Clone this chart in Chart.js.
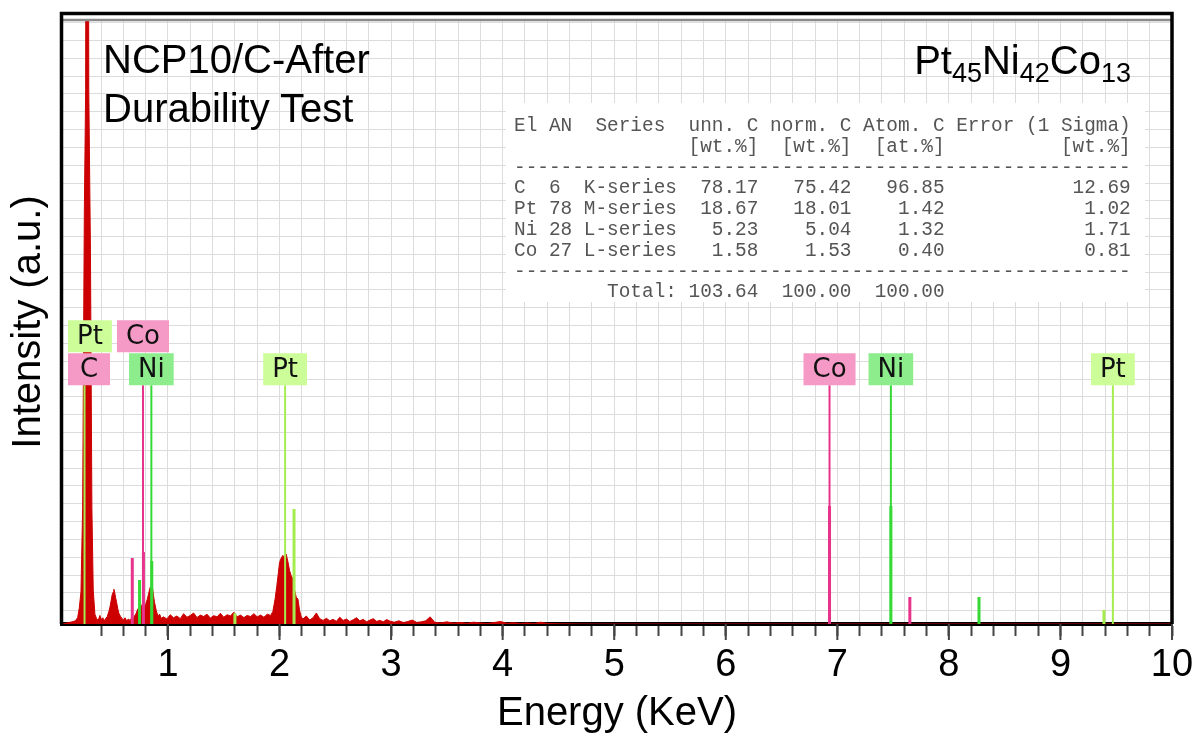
<!DOCTYPE html>
<html>
<head>
<meta charset="utf-8">
<script src="https://cdn.jsdelivr.net/npm/chart.js@4/dist/chart.umd.min.js"></script>
<style>
  body { margin: 0; background: #fff; }
  #wrap { position: relative; width: 1193px; height: 742px; font-family: "Liberation Sans", Arial, sans-serif; }
  #wrap canvas { position: absolute; left: 0; top: 0; }
  .note { position: absolute; font-size: 40px; line-height: 49px; color: #000; white-space: nowrap; }
  .note sub { font-size: 27px; vertical-align: -8px; line-height: 0; }
  #tbl { position: absolute; left: 506px; top: 103px; width: 631px; height: 186px; padding: 13px 0 0 8px; background: #fff; }
  #tbl pre { margin: 0; font-family: "Liberation Mono", "DejaVu Sans Mono", monospace; font-size: 19.4px; line-height: 20.8px; color: #555; }
</style>
</head>
<body>
<div id="wrap">
  <canvas id="myChart" width="1193" height="742"></canvas>
  <div class="note" style="left:103px; top:35px;">NCP10/C-After<br>Durability Test</div>
  <div class="note" style="right:62px; top:36px;">Pt<sub>45</sub>Ni<sub>42</sub>Co<sub>13</sub></div>
  <div id="tbl"><pre id="tblText"></pre></div>
</div>
<script>
// EDS spectrum (energy in keV, intensity in counts)
const energy = [
  0.05, 0.08, 0.11, 0.14, 0.17, 0.19,
  0.205, 0.22, 0.235, 0.25, 0.262, 0.27, 0.28, 0.29, 0.305, 0.318, 0.33, 0.345,
  0.36, 0.375, 0.39, 0.40, 0.415, 0.43, 0.44,
  0.455, 0.47, 0.48, 0.49, 0.50, 0.51, 0.515, 0.52, 0.53, 0.54, 0.55, 0.56, 0.575, 0.59,
  0.60, 0.615, 0.63, 0.645, 0.66, 0.675, 0.69, 0.70, 0.715, 0.73, 0.745, 0.76, 0.775, 0.79,
  0.80, 0.815, 0.83, 0.84, 0.85, 0.86, 0.87, 0.88, 0.895, 0.91, 0.925, 0.94,
  0.96, 0.99, 1.02, 1.05, 1.08, 1.11, 1.14, 1.17, 1.20, 1.23, 1.26, 1.29, 1.32, 1.35, 1.38,
  1.41, 1.44, 1.47, 1.50, 1.53, 1.56, 1.59, 1.62, 1.65, 1.68, 1.71, 1.74, 1.77, 1.80, 1.83,
  1.86, 1.89, 1.92,
  1.94, 1.96, 1.975, 1.99, 2.00, 2.015, 2.03, 2.045, 2.06, 2.075, 2.09, 2.105, 2.12, 2.135,
  2.15, 2.165, 2.18, 2.195,
  2.21, 2.24, 2.27, 2.30, 2.33, 2.36, 2.39, 2.42, 2.45, 2.48, 2.51, 2.54, 2.57, 2.60, 2.63,
  2.66, 2.69, 2.72, 2.75, 2.78, 2.81, 2.84, 2.87, 2.90, 2.93, 2.96, 2.99, 3.03, 3.07, 3.11,
  3.15, 3.19, 3.23, 3.27, 3.31, 3.35, 3.39, 3.44, 3.50, 3.56, 3.62, 3.68, 3.74, 3.80, 3.86,
  3.92, 3.98, 4.04, 4.10, 4.16, 4.22, 4.28, 4.34, 4.40, 4.50, 4.70, 5.50, 10.0
];
const counts = [
  0, 4, 8, 12, 18, 35,
  90, 180, 650, 2300, 3000, 7000, 7000, 3000, 2100, 650, 190, 55,
  30, 22, 48, 25, 35, 18, 30,
  40, 70, 95, 130, 165, 180, 195, 185, 150, 120, 85, 60, 42, 30,
  22, 35, 18, 28, 20, 34, 26, 45, 60, 85, 62, 95, 120, 90,
  110, 140, 180, 205, 190, 210, 160, 120, 75, 45, 55, 32,
  40, 28, 52, 35, 45, 30, 58, 38, 48, 62, 36, 50, 42, 55, 33,
  47, 40, 60, 38, 52, 45, 66, 40, 50, 36, 48, 42, 58, 40, 50,
  38, 55, 48,
  70, 140, 210, 290, 345, 370, 385, 372, 392, 350, 300, 270, 255, 190,
  150, 140, 75, 40,
  28, 45, 22, 35, 62, 30, 20, 32, 18, 26, 15, 38, 20, 28, 14,
  24, 35, 18, 26, 12, 22, 30, 15, 20, 12, 25, 16, 10, 18, 8,
  14, 22, 9, 12, 18, 40, 10, 6, 12, 5, 9, 4, 10, 6, 3,
  8, 14, 4, 7, 3, 6, 2, 10, 3, 1, 0, 0, 0
];

// characteristic line markers (element, energy keV, marker height)
const lineEl = ['Co', 'Ni', 'Co', 'Ni', 'Pt', 'Pt', 'Co', 'Ni', 'Co', 'Ni', 'Pt'];
const lineE  = [0.68, 0.745, 0.78, 0.855, 1.60, 2.13, 6.93, 7.48, 7.65, 8.27, 9.39];
const lineH  = [370, 247, 404, 353, 60, 645, 662, 662, 151, 151, 78];

// labelled lines
const labelEl = ['Pt', 'C', 'Co', 'Ni', 'Pt', 'Co', 'Ni', 'Pt'];
const labelE  = [0.252, 0.277, 0.776, 0.851, 2.05, 6.93, 7.48, 9.47];

// quantification table
const tableHead = ['El', 'AN', 'Series', 'unn. C', 'norm. C', 'Atom. C', 'Error (1 Sigma)'];
const tableUnits = ['[wt.%]', '[wt.%]', '[at.%]', '[wt.%]'];
const tableRows = [
  ['C',  '6',  'K-series', '78.17', '75.42', '96.85', '12.69'],
  ['Pt', '78', 'M-series', '18.67', '18.01', '1.42',  '1.02'],
  ['Ni', '28', 'L-series', '5.23',  '5.04',  '1.32',  '1.71'],
  ['Co', '27', 'L-series', '1.58',  '1.53',  '0.40',  '0.81']
];
const tableTotal = ['103.64', '100.00', '100.00'];

const colors = {
  C:  { line: '#e8338c', box: '#f59ac6' },
  Co: { line: '#e8338c', box: '#f59ac6' },
  Ni: { line: '#35d835', box: '#8ded8d' },
  Pt: { line: '#a5ec4f', box: '#cdfd98' }
};
const upperTier = [true, false, true, false, false, false, false, false];
const LABEL_LEVEL = 1340;

// build table text
let tt = tableHead[0] + ' ' + tableHead[1] + '  ' + tableHead[2] + '  ' + tableHead[3] + ' ' +
  tableHead[4] + ' ' + tableHead[5] + ' ' + tableHead[6] + '\n';
tt += ''.padEnd(15) + tableUnits[0] + '  ' + tableUnits[1] + '  ' + tableUnits[2] + ''.padEnd(10) + tableUnits[3] + '\n';
tt += '-'.repeat(53) + '\n';
tableRows.forEach(r => {
  tt += r[0].padEnd(3) + r[1].padEnd(3) + r[2] + r[3].padStart(7) + r[4].padStart(8) + r[5].padStart(8) + r[6].padStart(16) + '\n';
});
tt += '-'.repeat(53) + '\n';
tt += 'Total:'.padStart(14) + tableTotal[0].padStart(7) + tableTotal[1].padStart(8) + tableTotal[2].padStart(8);
document.getElementById('tblText').textContent = tt;

// marker datasets, one per element
const markerSets = ['Co', 'Ni', 'Pt'].map(el => {
  const pts = [];
  lineEl.forEach((e, i) => {
    if (e !== el) return;
    pts.push({ x: lineE[i], y: 0 }, { x: lineE[i], y: lineH[i] }, { x: lineE[i], y: null });
  });
  return {
    label: el, data: pts, borderColor: colors[el].line, borderWidth: 3,
    pointRadius: 0, fill: false, spanGaps: false, order: 1
  };
});

const frame = {
  id: 'frame',
  afterDatasetsDraw(chart) {
    const { ctx, chartArea, scales: { x, y } } = chart;
    const base = y.getPixelForValue(LABEL_LEVEL);
    ctx.save();
    ctx.font = '26px "DejaVu Sans"';
    ctx.textAlign = 'center';
    ctx.textBaseline = 'middle';
    labelEl.forEach((el, i) => {
      const px = x.getPixelForValue(labelE[i]);
      const w = Math.max(42, ctx.measureText(el).width + 18), h = 32;
      const bottom = upperTier[i] ? base - h - 1 : base;
      const left = Math.max(chartArea.left + 6, px - w / 2);
      if (el !== 'C') {
        ctx.strokeStyle = colors[el].line;
        ctx.lineWidth = 2;
        ctx.beginPath();
        ctx.moveTo(px, upperTier[i] ? base : bottom);
        ctx.lineTo(px, chartArea.bottom);
        ctx.stroke();
      }
      ctx.fillStyle = colors[el].box;
      ctx.fillRect(left, bottom - h, w, h);
      ctx.fillStyle = '#111';
      ctx.fillText(el, left + w / 2, bottom - h / 2 + 1);
    });
    ctx.restore();
  },
  afterDraw(chart) {
    const { ctx, chartArea, scales: { x } } = chart;
    ctx.save();
    // gray line along the top of the plot
    ctx.strokeStyle = '#8a8a8a';
    ctx.lineWidth = 2.5;
    ctx.beginPath();
    ctx.moveTo(chartArea.left, chartArea.top);
    ctx.lineTo(chartArea.right, chartArea.top);
    ctx.stroke();
    // black frame
    ctx.strokeStyle = '#000';
    ctx.lineWidth = 3.5;
    ctx.beginPath();
    ctx.moveTo(chartArea.left - 0.5, chartArea.bottom);
    ctx.lineTo(chartArea.left - 0.5, chartArea.top - 6.5);
    ctx.lineTo(chartArea.right, chartArea.top - 6.5);
    ctx.lineTo(chartArea.right, chartArea.bottom);
    ctx.stroke();
    // longer ticks at whole keV
    ctx.strokeStyle = '#444';
    ctx.lineWidth = 2;
    for (let k = 1; k <= 10; k++) {
      const px = x.getPixelForValue(k);
      ctx.beginPath();
      ctx.moveTo(px, chartArea.bottom);
      ctx.lineTo(px, chartArea.bottom + 16);
      ctx.stroke();
    }
    ctx.restore();
  }
};

const ctx = document.getElementById('myChart').getContext('2d');
const myChart = new Chart(ctx, {
  type: 'line',
  data: {
    datasets: [{
      label: 'spectrum',
      data: energy.map((e, i) => ({ x: e, y: counts[i] })),
      borderColor: '#cc0000',
      backgroundColor: '#cc0000',
      borderWidth: 1,
      pointRadius: 0,
      fill: 'origin',
      order: 2
    }].concat(markerSets)
  },
  options: {
    responsive: false,
    animation: false,
    layout: { padding: { top: 20, right: 21, left: 0, bottom: 0 } },
    plugins: { legend: { display: false }, tooltip: { enabled: false } },
    scales: {
      x: {
        type: 'linear', min: 0.05, max: 10,
        afterFit: s => { s.height = 118; s.paddingLeft = 0; s.paddingRight = 0; },
        ticks: {
          stepSize: 0.2, autoSkip: false, maxRotation: 0, padding: 7,
          color: '#000', font: { family: 'Liberation Sans', size: 38 },
          callback: v => Number.isInteger(Math.round(v * 100) / 100) ? String(Math.round(v)) : ''
        },
        grid: {
          color: '#dcdcdc', tickLength: 12, tickWidth: 2,
          tickColor: c => (c.tick && c.tick.value > 0.06) ? '#444' : 'rgba(0,0,0,0)'
        },
        border: { color: '#000', width: 4 },
        title: {
          display: true, text: 'Energy (KeV)', color: '#000',
          font: { family: 'Liberation Sans', size: 40 }, padding: { top: 0, bottom: 4 }
        }
      },
      y: {
        min: 0, max: 3390,
        afterFit: s => { s.width = 62; },
        afterBuildTicks: s => {
          const t = [];
          for (let v = 75; v < 3390; v += 100) t.push({ value: v });
          s.ticks = t;
        },
        ticks: { display: false },
        grid: { color: '#dcdcdc', drawTicks: false },
        border: { display: false },
        title: {
          display: true, text: 'Intensity (a.u.)', color: '#000',
          font: { family: 'Liberation Sans', size: 40 }, padding: { top: 5, bottom: 0 }
        }
      }
    }
  },
  plugins: [frame]
});
</script>
</body>
</html>
